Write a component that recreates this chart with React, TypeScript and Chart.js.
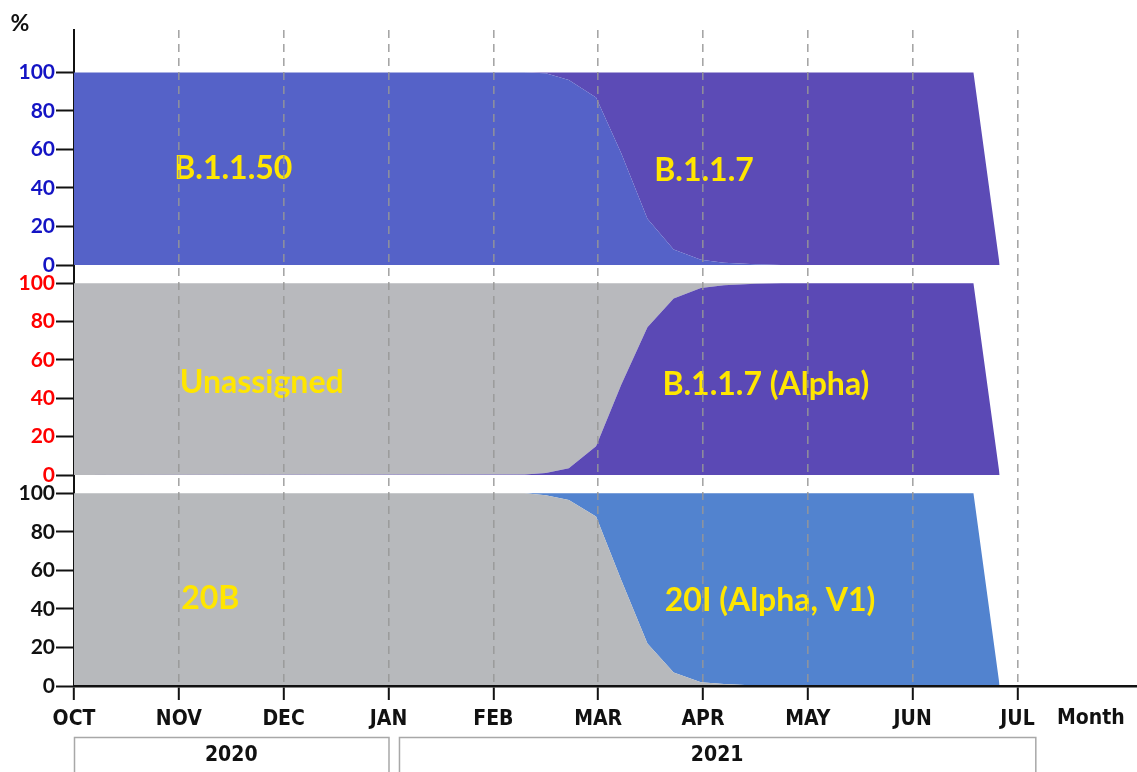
import React, { useEffect, useRef } from "react";
import { Chart, registerables } from "chart.js";

Chart.register(...registerables);

// ---- data ----
const months = ["OCT", "NOV", "DEC", "JAN", "FEB", "MAR", "APR", "MAY", "JUN", "JUL"];
const monthTicks = [0, 1, 2, 3, 4, 5, 6, 7, 8, 9];
const yTicks = [0, 20, 40, 60, 80, 100];
// months since 1 Oct 2020
const xPoints = [0, 4.3, 4.5, 4.72, 4.98, 5.22, 5.47, 5.72, 5.98, 6.2, 6.5, 6.75, 8.58, 8.83];
// panel 1 (Pango lineage)
const lineageB1150 = [100, 100, 99.5, 96, 87, 58, 24, 8, 2.7, 1.2, 0.4, 0, 0, 0];
const lineageB117 = [0, 0, 0.5, 4, 13, 42, 76, 92, 97.3, 98.8, 99.6, 100, 100, 0];
// panel 2 (WHO / assignment)
const alphaB117 = [0, 0.3, 1, 3.5, 15, 47, 77, 92, 97.5, 99, 99.7, 100, 100, 0];
const unassigned = [100, 99.7, 99, 96.5, 85, 53, 23, 8, 2.5, 1, 0.3, 0, 0, 0];
// panel 3 (Nextstrain clade)
const clade20B = [100, 100, 99, 96.5, 88, 55, 22, 7, 2, 1, 0.3, 0, 0, 0];
const clade20I = [0, 0, 1, 3.5, 12, 45, 78, 93, 98, 99, 99.7, 100, 100, 0];

const panelLabels = ["B.1.1.50", "B.1.1.7", "Unassigned", "B.1.1.7 (Alpha)", "20B", "20I (Alpha, V1)"];
const years = ["2020", "2021"];

// ---- label placement (positions, not data) ----
const labelPos = [
  { x: 1.52, y: 50, axis: "y1" },
  { x: 6.01, y: 49, axis: "y1" },
  { x: 1.79, y: 48, axis: "y2" },
  { x: 6.6, y: 47, axis: "y2" },
  { x: 1.3, y: 45.5, axis: "y3" },
  { x: 6.64, y: 44.5, axis: "y3" },
];
const yearSpan = [
  [0, 3],
  [3.1, 9.17],
];

const NARROW = "'Liberation Sans Narrow', 'DejaVu Sans Condensed', 'Arial Narrow', 'Roboto', sans-serif";
const LATO = "Lato, 'Open Sans', sans-serif";

export default function App() {
  const ref = useRef<HTMLCanvasElement>(null);

  useEffect(() => {
    const canvas = ref.current as HTMLCanvasElement;
    const pts = (arr: number[]) => arr.map((v, i) => ({ x: xPoints[i], y: v }));
    const ds = (label: string, data: number[], color: string, yAxisID: string, fill: any) => ({
      label,
      data: pts(data),
      backgroundColor: color,
      borderColor: color,
      borderWidth: 0,
      pointRadius: 0,
      pointHoverRadius: 0,
      tension: 0,
      fill,
      yAxisID,
      xAxisID: "x",
      stack: yAxisID,
    });

    const yScale = (color: string, max: number, stackWeight: number, weight: number) => ({
      type: "linear",
      position: "left",
      stack: "panels",
      stackWeight,
      weight,
      stacked: true,
      min: 0,
      max,
      afterBuildTicks: (s: any) => {
        s.ticks = yTicks.map((v) => ({ value: v }));
      },
      afterFit: (s: any) => {
        s.width = 74;
      },
      grid: {
        drawOnChartArea: false,
        drawTicks: true,
        tickLength: 18,
        tickColor: "#111",
        tickWidth: 2,
        color: "#111",
      },
      border: { display: true, color: "#111", width: 2 },
      ticks: {
        color,
        autoSkip: false,
        padding: 1,
        font: { family: LATO, size: 21, weight: "bold" },
      },
    });

    const overlay = {
      id: "overlay",
      afterDatasetsDraw(chart: any) {
        const ctx = chart.ctx;
        ctx.save();
        ctx.fillStyle = "#FFE600";
        ctx.font = `bold 32px ${LATO}`;
        ctx.textAlign = "center";
        ctx.textBaseline = "middle";
        panelLabels.forEach((t, i) => {
          const p = labelPos[i];
          const x = chart.scales.x.getPixelForValue(p.x);
          const y = chart.scales[p.axis].getPixelForValue(p.y);
          ctx.fillText(t, x, y);
        });
        ctx.restore();
      },
      afterDraw(chart: any) {
        const ctx = chart.ctx;
        const area = chart.chartArea;
        const xs = chart.scales.x;
        ctx.save();
        // % sign
        ctx.fillStyle = "#111";
        ctx.font = `bold 23px ${LATO}`;
        ctx.textAlign = "center";
        ctx.textBaseline = "middle";
        ctx.fillText("%", area.left - 54, area.top - 6);
        // Month label
        ctx.font = `bold 21px ${NARROW}`;
        ctx.fillText("Month", xs.getPixelForValue(9.7), area.bottom + 33);
        // year boxes
        ctx.strokeStyle = "#a8a8a8";
        ctx.lineWidth = 1.5;
        const top = area.bottom + 51;
        yearSpan.forEach((sp, i) => {
          const x1 = xs.getPixelForValue(sp[0]);
          const x2 = xs.getPixelForValue(sp[1]);
          ctx.strokeRect(x1 + 0.5, top + 0.5, x2 - x1, chart.height - top + 10);
          ctx.fillStyle = "#111";
          ctx.font = `bold 21px ${NARROW}`;
          ctx.fillText(years[i], (x1 + x2) / 2, top + 19);
        });
        ctx.restore();
      },
    };

    const chart = new Chart(canvas, {
      type: "line",
      data: {
        datasets: [
          ds("B.1.1.50", lineageB1150, "#5562C8", "y1", "origin"),
          ds("B.1.1.7", lineageB117, "#5C4BB6", "y1", "-1"),
          ds("B.1.1.7 (Alpha)", alphaB117, "#5B49B5", "y2", "origin"),
          ds("Unassigned", unassigned, "#B8B9BD", "y2", "-1"),
          ds("20B", clade20B, "#B7B9BC", "y3", "origin"),
          ds("20I (Alpha, V1)", clade20I, "#5283CF", "y3", "-1"),
        ] as any,
      },
      options: {
        animation: false,
        responsive: false,
        devicePixelRatio: 1,
        events: [],
        layout: { padding: { top: 30, left: 0, right: 0, bottom: 0 } },
        plugins: { legend: { display: false }, tooltip: { enabled: false } },
        scales: {
          x: {
            type: "linear",
            min: 0,
            max: 10.14,
            afterBuildTicks: (s: any) => {
              s.ticks = monthTicks.map((v) => ({ value: v }));
            },
            afterFit: (s: any) => {
              s.height = 86;
            },
            ticks: {
              autoSkip: false,
              maxRotation: 0,
              padding: 7,
              color: "#111",
              font: { family: NARROW, size: 21, weight: "bold" },
              callback: (_v: any, i: number) => months[i] ?? "",
            },
            grid: {
              z: 1,
              color: (c: any) => (c.tick && c.tick.value === 0 ? "rgba(0,0,0,0)" : "rgba(150,150,150,0.85)"),
              lineWidth: 1.6,
              drawTicks: true,
              tickLength: 14,
              tickColor: "#111",
              tickWidth: 2,
            },
            border: { display: true, color: "#111", width: 2.5, dash: [8, 6], z: 2 },
          },
          y1: yScale("#1414C4", 122, 235, 3),
          y2: yScale("#FF0000", 109.5, 210, 2),
          y3: yScale("#111111", 109.5, 211, 1),
        } as any,
      },
      plugins: [overlay as any],
    });
    return () => chart.destroy();
  }, []);

  return (
    <div style={{ position: "fixed", left: 0, top: 0, width: 1137, height: 772, background: "#fff" }}>
      <canvas ref={ref} width={1137} height={772} style={{ display: "block" }} />
    </div>
  );
}
